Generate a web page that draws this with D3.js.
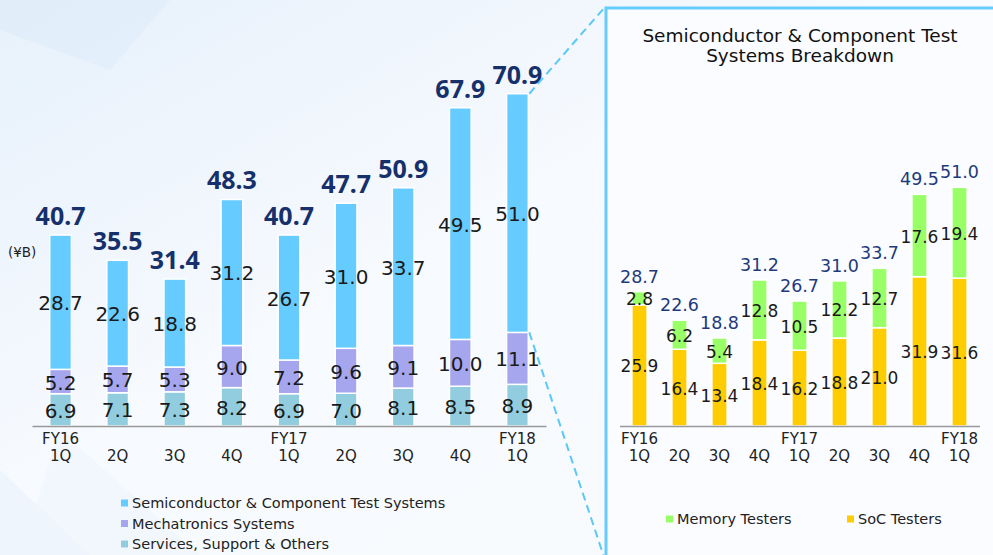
<!DOCTYPE html>
<html><head><meta charset="utf-8">
<script src="https://cdn.jsdelivr.net/npm/d3@7"></script>
<style>
html,body{margin:0;padding:0;overflow:hidden;background:#fff;}
svg{display:block;}
</style></head>
<body>
<svg id="chart" width="993" height="555"></svg>
<script>
// ---- data ----
const quarters = ["FY16 1Q","2Q","3Q","4Q","FY17 1Q","2Q ","3Q ","4Q ","FY18 1Q"];
const semiconductor = [28.7,22.6,18.8,31.2,26.7,31.0,33.7,49.5,51.0];
const mechatronics  = [5.2,5.7,5.3,9.0,7.2,9.6,9.1,10.0,11.1];
const services      = [6.9,7.1,7.3,8.2,6.9,7.0,8.1,8.5,8.9];
const totals        = [40.7,35.5,31.4,48.3,40.7,47.7,50.9,67.9,70.9];
const memoryTesters = [2.8,6.2,5.4,12.8,10.5,12.2,12.7,17.6,19.4];
const socTesters    = [25.9,16.4,13.4,18.4,16.2,18.8,21.0,31.9,31.6];
const leftLegend  = ["Semiconductor & Component Test Systems","Mechatronics Systems","Services, Support & Others"];
const rightLegend = ["Memory Testers","SoC Testers"];
const unitLabel = "(¥B)";
const titleLines = ["Semiconductor & Component Test","Systems Breakdown"];

const C = {semi:"#66CCFF", mech:"#A6A6EE", serv:"#92CDDF", mem:"#99FF66", soc:"#FFCC00",
           total:"#16306B", total2:"#1F3A7A", text:"#1a1a1a"};
const FONT = "'DejaVu Sans', Verdana, sans-serif";

const svg = d3.select("#chart");
const defs = svg.append("defs");
const g1 = defs.append("linearGradient").attr("id","bg").attr("x1","0").attr("y1","0").attr("x2","1").attr("y2","1");
g1.append("stop").attr("offset","0").attr("stop-color","#E6F0FB");
g1.append("stop").attr("offset","0.45").attr("stop-color","#F7FAFE");
g1.append("stop").attr("offset","1").attr("stop-color","#F8FAFD");
svg.append("rect").attr("width",993).attr("height",555).attr("fill","url(#bg)");
// faint decorative shapes
svg.append("polygon").attr("points","0,0 170,0 110,70 0,30").attr("fill","#DCEBFA").attr("opacity",0.5);
svg.append("polygon").attr("points","0,30 110,70 0,120").attr("fill","#EAF3FC").attr("opacity",0.6);
svg.append("polygon").attr("points","0,470 90,555 0,555").attr("fill","#E8F1FB").attr("opacity",0.6);
svg.append("polygon").attr("points","60,430 200,555 20,555").attr("fill","#EEF5FC").attr("opacity",0.6);

const baseY = 426;
const pxPerUnit = 4.68;

// ---- left chart ----
const xL = d3.scaleBand().domain(quarters).range([32, 546]).paddingInner(0.62).paddingOuter(0.31);
const yL = d3.scaleLinear().domain([0, 75]).range([baseY, baseY - 75*pxPerUnit]);

const leftStack = quarters.map((q,i)=>({q, segs:[
  {v:services[i], c:C.serv}, {v:mechatronics[i], c:C.mech}, {v:semiconductor[i], c:C.semi}]}));

const gl = svg.append("g");
leftStack.forEach((d,i)=>{
  let acc = 0;
  d.segs.forEach(s=>{
    const y0 = yL(acc), y1 = yL(acc + s.v);
    gl.append("rect").attr("x", xL(d.q)).attr("width", xL.bandwidth())
      .attr("y", y1).attr("height", y0 - y1).attr("fill", s.c)
      .attr("stroke","#fff").attr("stroke-width",1.5);
    gl.append("text").attr("x", xL(d.q)+xL.bandwidth()/2).attr("y",(y0+y1)/2+1)
      .attr("text-anchor","middle").attr("dominant-baseline","central")
      .attr("font-family",FONT).attr("font-size",20).attr("fill",C.text).text(s.v.toFixed(1));
    acc += s.v;
  });
  gl.append("text").attr("x", xL(d.q)+xL.bandwidth()/2).attr("y", yL(acc)-10)
    .attr("text-anchor","middle").attr("font-family","'Noto Sans', 'Liberation Sans', sans-serif")
    .attr("font-weight",700).attr("font-size",25).attr("fill",C.total).text(totals[i].toFixed(1));
});

// axis
const axL = d3.axisBottom(xL).tickSize(0).tickFormat(()=>"");
const gAxL = svg.append("g").attr("transform",`translate(0,${baseY})`).call(axL);
gAxL.select(".domain").attr("stroke","#999").attr("stroke-width",1.5);
function qLabels(scale, g){
  quarters.forEach(q=>{
    const parts = q.trim().split(" ");
    const cx = scale(q)+scale.bandwidth()/2;
    const lines = parts.length===2 ? parts : [null, parts[0]];
    lines.forEach((txt,k)=>{
      if(txt===null) return;
      g.append("text").attr("x",cx).attr("y",baseY+18+k*17).attr("text-anchor","middle")
        .attr("font-family",FONT).attr("font-size",15).attr("fill","#222").text(txt);
    });
  });
}
qLabels(xL, svg.append("g"));

svg.append("text").attr("x",8).attr("y",257).attr("font-family",FONT).attr("font-size",13.5)
  .attr("fill","#222").text(unitLabel);

// left legend
const legColsL = [C.semi, C.mech, C.serv];
leftLegend.forEach((name,i)=>{
  const y = 503 + i*20.5;
  svg.append("rect").attr("x",121).attr("y",y-3.5).attr("width",7).attr("height",7).attr("fill",legColsL[i]);
  svg.append("text").attr("x",132).attr("y",y).attr("dominant-baseline","central")
    .attr("font-family",FONT).attr("font-size",14.5).attr("fill","#222").text(name);
});

// ---- right panel ----
const panelX = 606, panelY = 8;
svg.append("rect").attr("x",panelX).attr("y",panelY).attr("width",420).attr("height",600)
  .attr("fill","#FAFCFF").attr("stroke","#66CCFF").attr("stroke-width",3);

// dashed connectors
const lastQ = quarters[quarters.length-1];
const lastIdx = quarters.length-1;
const topRightX = xL(lastQ)+xL.bandwidth();
svg.append("line").attr("x1",topRightX+1).attr("y1",yL(services[lastIdx]+mechatronics[lastIdx]+semiconductor[lastIdx]))
  .attr("x2",panelX-1).attr("y2",panelY-1)
  .attr("stroke","#5BC8F5").attr("stroke-width",2).attr("stroke-dasharray","8,5");
svg.append("line").attr("x1",topRightX+1).attr("y1",yL(services[lastIdx]+mechatronics[lastIdx]))
  .attr("x2",panelX-1).attr("y2",560)
  .attr("stroke","#5BC8F5").attr("stroke-width",2).attr("stroke-dasharray","8,5");

titleLines.forEach((t,i)=>{
  svg.append("text").attr("x",800).attr("y",42+i*19.5).attr("text-anchor","middle")
    .attr("font-family",FONT).attr("font-size",18.5).attr("fill","#111").text(t);
});

const xR = d3.scaleBand().domain(quarters).range([619.5, 979.5]).paddingInner(0.62).paddingOuter(0.31);
const yR = d3.scaleLinear().domain([0, 55]).range([baseY, baseY - 55*pxPerUnit]);
const gr = svg.append("g");
quarters.forEach((q,i)=>{
  const segs = [{v:socTesters[i], c:C.soc},{v:memoryTesters[i], c:C.mem}];
  let acc = 0;
  segs.forEach(s=>{
    const y0 = yR(acc), y1 = yR(acc+s.v);
    gr.append("rect").attr("x",xR(q)).attr("width",xR.bandwidth()).attr("y",y1).attr("height",y0-y1)
      .attr("fill",s.c).attr("stroke","#fff").attr("stroke-width",1.5);
    acc += s.v;
  });
  acc = 0;
  segs.forEach(s=>{
    const y0 = yR(acc), y1 = yR(acc+s.v);
    gr.append("text").attr("x",xR(q)+xR.bandwidth()/2).attr("y",(y0+y1)/2+1)
      .attr("text-anchor","middle").attr("dominant-baseline","central")
      .attr("font-family",FONT).attr("font-size",17).attr("fill",C.text).text(s.v.toFixed(1));
    acc += s.v;
  });
  gr.append("text").attr("x",xR(q)+xR.bandwidth()/2).attr("y",yR(acc)-9)
    .attr("text-anchor","middle").attr("font-family",FONT).attr("font-size",17.5)
    .attr("fill",C.total2).text(semiconductor[i].toFixed(1));
});
const gAxR = svg.append("g").attr("transform",`translate(0,${baseY})`).call(d3.axisBottom(xR).tickSize(0).tickFormat(()=>""));
gAxR.select(".domain").attr("stroke","#999").attr("stroke-width",1.5);
qLabels(xR, svg.append("g"));

// right legend
const legColsR = [C.mem, C.soc];
const legXR = [666, 847];
rightLegend.forEach((name,i)=>{
  svg.append("rect").attr("x",legXR[i]).attr("y",519-3.5).attr("width",7).attr("height",7).attr("fill",legColsR[i]);
  svg.append("text").attr("x",legXR[i]+11).attr("y",519).attr("dominant-baseline","central")
    .attr("font-family",FONT).attr("font-size",14.5).attr("fill","#222").text(name);
});
</script>
</body></html>
